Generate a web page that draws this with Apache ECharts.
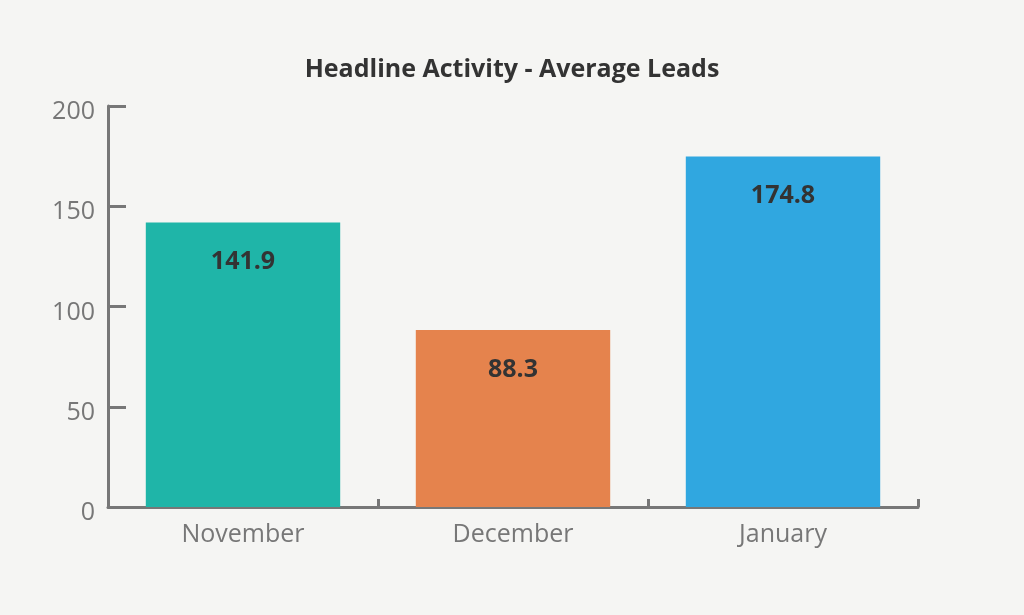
<!DOCTYPE html>
<html>
<head>
<meta charset="utf-8">
<script src="https://cdn.jsdelivr.net/npm/echarts@6/dist/echarts.min.js"></script>
<style>
html,body{margin:0;padding:0;background:#f5f5f3;}
#chart{width:1024px;height:615px;}
</style>
</head>
<body>
<div id="chart"></div>
<script>
const categories = ['November', 'December', 'January'];
const averageLeads = [141.9, 88.3, 174.8];
const barColors = ['#1fb5a8', '#e5834d', '#30a7e0'];
const yTicks = [0, 50, 100, 150, 200];

const chart = echarts.init(document.getElementById('chart'));
chart.setOption({
  backgroundColor: '#f5f5f3',
  animation: false,
  title: {
    text: 'Headline Activity - Average Leads',
    left: 'center',
    top: 52,
    textStyle: { fontFamily: 'Open Sans', fontWeight: 'bold', fontSize: 25, color: '#333' }
  },
  grid: { left: 108, right: 106, top: 106, bottom: 108, containLabel: false },
  xAxis: {
    type: 'category',
    data: categories,
    axisLine: { lineStyle: { color: '#777', width: 3 } },
    axisTick: { show: true, inside: true, length: 8, alignWithLabel: false, lineStyle: { color: '#777', width: 3 } },
    axisLabel: { fontFamily: 'Open Sans', fontSize: 25, color: '#777', margin: 15 }
  },
  yAxis: {
    type: 'value',
    min: yTicks[0],
    max: yTicks[yTicks.length - 1],
    interval: 50,
    axisLine: { show: true, lineStyle: { color: '#777', width: 3 } },
    axisTick: { show: true, inside: true, length: 18, lineStyle: { color: '#777', width: 3 } },
    splitLine: { show: false },
    axisLabel: { fontFamily: 'Open Sans', fontSize: 25, color: '#777', margin: 13, verticalAlign: 'top', lineHeight: 12 }
  },
  series: [{
    type: 'bar',
    data: averageLeads.map((v, i) => ({ value: v, itemStyle: { color: barColors[i] } })),
    barCategoryGap: '28%',
    label: {
      show: true,
      position: 'insideTop',
      distance: 27,
      fontFamily: 'Open Sans',
      fontWeight: 'bold',
      fontSize: 25,
      color: '#333'
    }
  }]
});
</script>
</body>
</html>
